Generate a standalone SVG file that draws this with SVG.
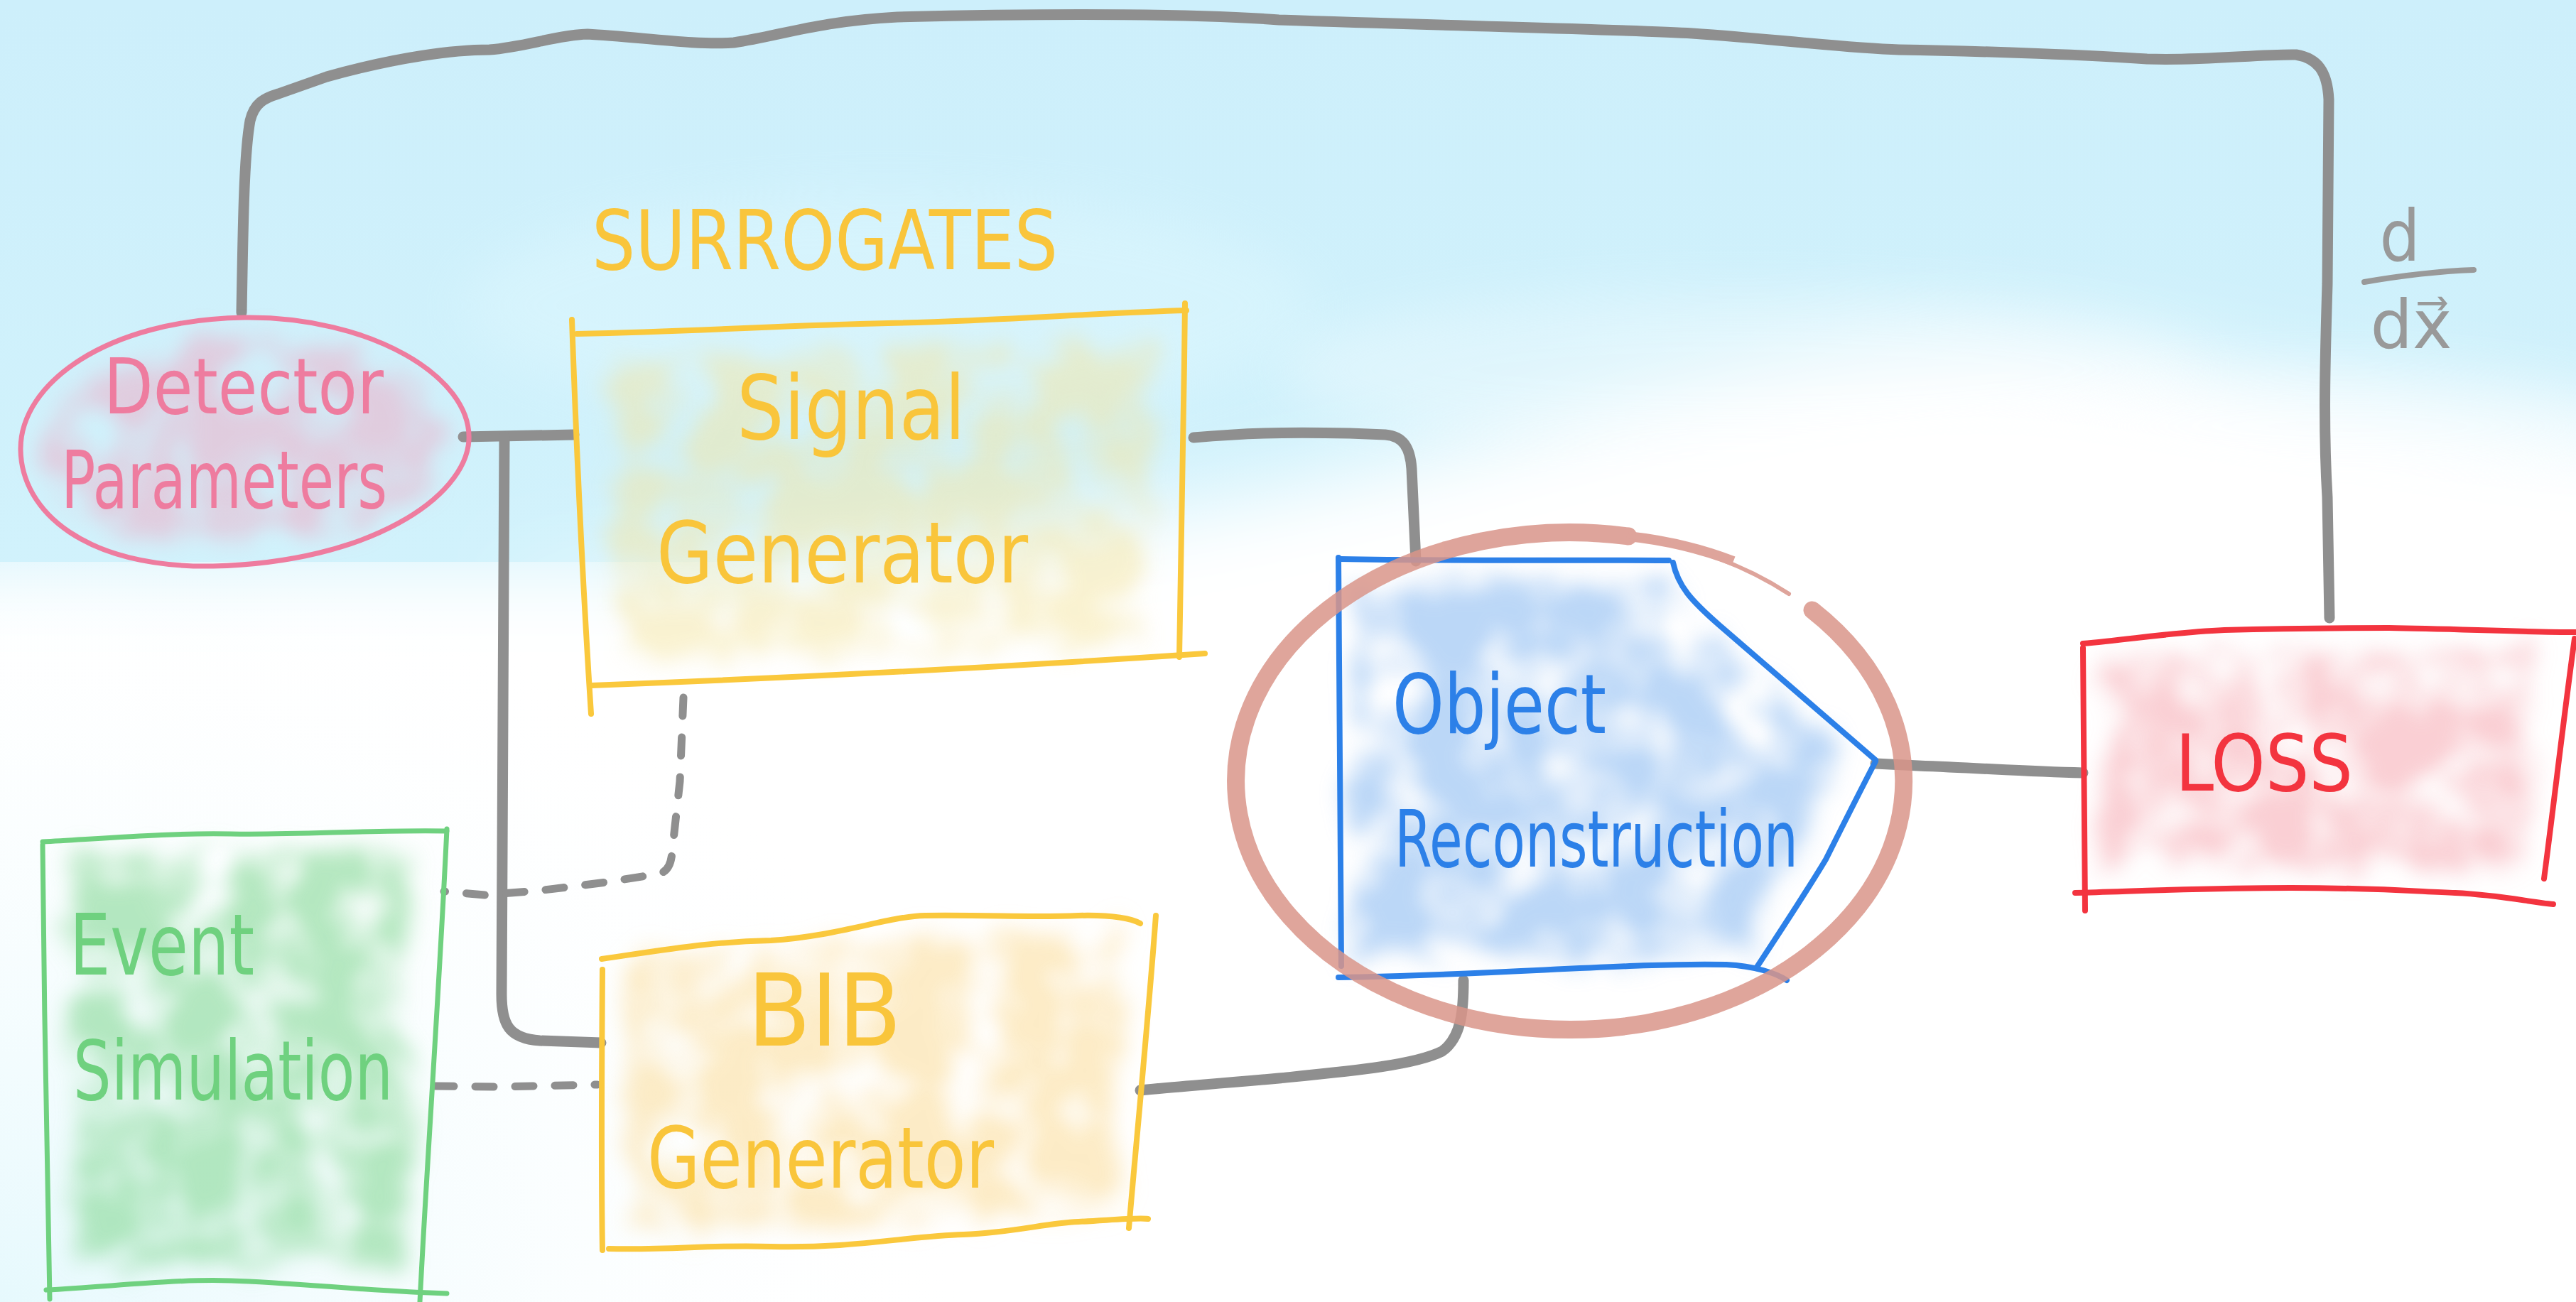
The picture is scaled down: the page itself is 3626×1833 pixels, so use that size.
<svg xmlns="http://www.w3.org/2000/svg" width="3626" height="1833" viewBox="0 0 3626 1833">
<defs>
<style>
.hand{font-family:"DejaVu Sans Condensed","DejaVu Sans","Liberation Sans",sans-serif;font-weight:200}
.conn{fill:none;stroke:#8f8f8f;stroke-width:15;stroke-linecap:round;stroke-linejoin:round}
.dash{fill:none;stroke:#8f8f8f;stroke-width:11;stroke-linecap:round;stroke-dasharray:26 30}
.pink{fill:none;stroke:#ee7c9f;stroke-width:7;stroke-linecap:round}
.yel{fill:none;stroke:#fac83c;stroke-width:8;stroke-linecap:round}
.grn{fill:none;stroke:#6fd17f;stroke-width:7;stroke-linecap:round}
.blu{fill:none;stroke:#2c80e8;stroke-width:8;stroke-linecap:round;stroke-linejoin:round}
.red{fill:none;stroke:#f3343f;stroke-width:8;stroke-linecap:round}
.ring{fill:none;stroke:#d9958a}
</style>
<linearGradient id="sky" x1="0" y1="0" x2="0" y2="1">
<stop offset="0" stop-color="#cdeffb"/>
<stop offset="1" stop-color="#d6f6fd"/>
</linearGradient>
<linearGradient id="leftfade" x1="0" y1="0" x2="1" y2="0">
<stop offset="0" stop-color="#ffffff"/>
<stop offset="0.55" stop-color="#ffffff"/>
<stop offset="1" stop-color="#ffffff" stop-opacity="0"/>
</linearGradient>
<radialGradient id="lowtint" cx="0" cy="1" r="1">
<stop offset="0" stop-color="#e6f9fd"/>
<stop offset="1" stop-color="#ffffff" stop-opacity="0"/>
</radialGradient>
<filter id="soft" x="-20%" y="-20%" width="140%" height="140%">
<feGaussianBlur stdDeviation="60"/>
</filter>
<filter id="soft2" x="-20%" y="-40%" width="140%" height="180%">
<feGaussianBlur stdDeviation="35"/>
</filter>
<mask id="skymask" maskUnits="userSpaceOnUse" x="0" y="0" width="3626" height="1833">
<path d="M-300,-300 H3926 V620 C3400,590 3150,520 2900,490 C2600,460 2300,560 2000,640 C1700,720 1300,785 900,792 L-300,792 Z" fill="#ffffff" filter="url(#soft)"/>
<rect x="0" y="0" width="1150" height="791" fill="url(#leftfade)"/>
</mask>
<filter id="smudge" x="-15%" y="-15%" width="130%" height="130%">
<feTurbulence type="fractalNoise" baseFrequency="0.015" numOctaves="3" seed="5" result="n"/>
<feDisplacementMap in="SourceGraphic" in2="n" scale="70" xChannelSelector="R" yChannelSelector="G" result="d"/>
<feGaussianBlur in="d" stdDeviation="13" result="b"/>
<feTurbulence type="fractalNoise" baseFrequency="0.012" numOctaves="2" seed="9" result="t"/>
<feColorMatrix in="t" type="matrix" values="0 0 0 0 1  0 0 0 0 1  0 0 0 0 1  0 0 0 2.4 -0.45" result="tm"/>
<feComposite in="b" in2="tm" operator="in" result="c"/>
<feGaussianBlur in="c" stdDeviation="9"/>
</filter>
</defs>

<g id="background">
<rect x="0" y="0" width="3626" height="1833" fill="#ffffff"/>
<rect x="0" y="700" width="1400" height="1133" fill="url(#lowtint)"/>
<rect x="0" y="0" width="3626" height="1833" fill="url(#sky)" mask="url(#skymask)"/>
<ellipse cx="2450" cy="520" rx="650" ry="110" fill="#ffffff" opacity="0.3" filter="url(#soft2)"/>
<ellipse cx="3300" cy="600" rx="400" ry="80" fill="#ffffff" opacity="0.3" filter="url(#soft2)"/>
<ellipse cx="1250" cy="430" rx="600" ry="160" fill="#e4faff" opacity="0.35" filter="url(#soft2)"/>
</g>

<g id="connectors">
<path class="conn" d="M340,440 C342,330 343,220 352,170 C358,145 372,138 392,132 L460,108 C560,80 640,70 689,70 C740,66 780,50 827,48 C900,52 980,64 1033,60 C1100,50 1150,30 1263,24 C1500,18 1700,20 1800,28 C2100,38 2300,42 2382,47 C2500,55 2600,68 2673,70 C2800,72 2950,78 3022,83 C3100,86 3180,76 3232,77 C3262,82 3276,100 3278,140 L3276,400 C3273,500 3270,600 3276,700 L3279,870"/>
<path class="conn" d="M652,615 L808,612"/>
<path class="conn" d="M710,615 L708,1000 L706,1400 C706,1442 716,1462 760,1465 L846,1468"/>
<path class="conn" d="M1680,616 C1750,610 1800,608 1900,610 L1950,612 C1975,614 1985,630 1987,660 L1993,790"/>
<path class="conn" d="M1605,1535 C1650,1530 1700,1527 1800,1518 C1900,1508 1990,1500 2030,1480 C2058,1460 2060,1420 2060,1380"/>
<path class="conn" d="M2640,1075 L2700,1078 C2800,1082 2850,1086 2932,1088"/>
<path class="dash" d="M962,982 L957,1100 L946,1200 C944,1222 938,1232 910,1233 L853,1242 C820,1246 780,1252 743,1255 L683,1260 L625,1255"/>
<path class="dash" d="M613,1529 L700,1530 L841,1527"/>
<text class="hand" x="3378" y="367" font-size="100" fill="#999999" text-anchor="middle">d</text>
<path d="M3328,397 C3380,388 3430,382 3482,380" fill="none" stroke="#999999" stroke-width="8" stroke-linecap="round"/>
<text class="hand" x="3394" y="490" font-size="95" fill="#999999" text-anchor="middle" textLength="115" lengthAdjust="spacingAndGlyphs">dx⃗</text>
</g>

<g id="detector-parameters">
<path d="M344,475 C520,475 625,545 620,620 C615,700 500,765 300,770 C135,772 65,705 65,633 C65,550 170,477 344,475 Z" fill="#f0a9c2" opacity="0.5" filter="url(#smudge)"/>
<path class="pink" d="M344,447 C520,445 665,530 660,620 C655,700 520,792 300,797 C120,800 30,720 29,633 C28,540 150,450 344,447 Z"/>
<text class="hand" x="146" y="582" font-size="108" fill="#ee7c9f" textLength="394" lengthAdjust="spacingAndGlyphs">Detector</text>
<text class="hand" x="86" y="715" font-size="112" fill="#ee7c9f" textLength="459" lengthAdjust="spacingAndGlyphs">Parameters</text>
</g>

<g id="surrogates-label">
<text class="hand" x="833" y="379" font-size="115" fill="#f9c53b" textLength="656" lengthAdjust="spacingAndGlyphs">SURROGATES</text>
</g>

<g id="signal-generator">
<path d="M860,500 L1620,480 L1610,910 L870,930 Z" fill="#f4e39a" opacity="0.45" filter="url(#smudge)"/>
<path class="yel" d="M805,450 C812,650 822,850 832,1005"/>
<path class="yel" d="M812,470 C1000,466 1100,458 1250,455 C1400,452 1550,440 1670,437"/>
<path class="yel" d="M1668,427 C1666,600 1663,780 1660,925"/>
<path class="yel" d="M833,965 C1100,955 1400,940 1696,920"/>
<text class="hand" x="1037" y="618" font-size="125" fill="#f9c53b" textLength="322" lengthAdjust="spacingAndGlyphs">Signal</text>
<text class="hand" x="924" y="820" font-size="120" fill="#f9c53b" textLength="523" lengthAdjust="spacingAndGlyphs">Generator</text>
</g>

<g id="bib-generator">
<path d="M885,1345 L1585,1305 L1570,1710 L890,1735 Z" fill="#fbdc98" opacity="0.55" filter="url(#smudge)"/>
<path class="yel" d="M847,1350 C950,1335 1000,1326 1085,1324 C1180,1318 1250,1290 1302,1289 C1400,1288 1450,1292 1518,1289 C1560,1288 1590,1292 1605,1300"/>
<path class="yel" d="M848,1365 C847,1500 846,1650 848,1760"/>
<path class="yel" d="M1627,1289 C1615,1450 1600,1600 1589,1729"/>
<path class="yel" d="M857,1758 C950,1760 1000,1752 1085,1755 C1200,1758 1280,1740 1356,1738 C1430,1735 1470,1722 1518,1720 C1560,1718 1600,1714 1616,1716"/>
<text class="hand" x="1052" y="1472" font-size="140" fill="#f9c53b" textLength="217" lengthAdjust="spacingAndGlyphs">BIB</text>
<text class="hand" x="911" y="1672" font-size="120" fill="#f9c53b" textLength="488" lengthAdjust="spacingAndGlyphs">Generator</text>
</g>

<g id="event-simulation">
<path d="M100,1200 L575,1195 L570,1780 L110,1785 Z" fill="#8fdc9f" opacity="0.65" filter="url(#smudge)"/>
<path class="grn" d="M60,1185 C150,1180 250,1172 325,1174 C420,1176 520,1168 629,1170"/>
<path class="grn" d="M60,1189 C62,1400 66,1650 70,1829"/>
<path class="grn" d="M629,1167 C618,1400 600,1650 591,1833"/>
<path class="grn" d="M65,1816 C150,1812 250,1800 325,1803 C420,1806 520,1818 629,1821"/>
<text class="hand" x="98" y="1372" font-size="120" fill="#6fd17f" textLength="260" lengthAdjust="spacingAndGlyphs">Event</text>
<text class="hand" x="103" y="1548" font-size="115" fill="#6fd17f" textLength="450" lengthAdjust="spacingAndGlyphs">Simulation</text>
</g>

<g id="object-reconstruction">
<path d="M1905,820 L2340,815 L2590,1070 L2470,1340 L1910,1355 Z" fill="#98c2f3" opacity="0.65" filter="url(#smudge)"/>
<path class="blu" d="M1886,787 C2050,790 2200,788 2349,789"/>
<path class="blu" d="M1884,785 C1886,1000 1887,1200 1888,1360"/>
<path class="blu" d="M2355,792 C2362,825 2380,845 2420,880 L2640,1070"/>
<path class="blu" d="M2640,1072 C2615,1120 2590,1170 2570,1210 C2540,1260 2500,1320 2472,1363"/>
<path class="blu" d="M1884,1376 C2100,1373 2300,1355 2430,1358 C2470,1360 2500,1370 2515,1380"/>
<g opacity="0.85">
<path class="ring" d="M2551,859 A470 350 0 1 1 2292,755" stroke-width="25" stroke-linecap="round"/>
<path class="ring" d="M2292,755 A470 350 0 0 1 2440,790" stroke-width="14"/>
<path class="ring" d="M2292,755 A470 350 0 0 1 2518,836" stroke-width="6" stroke-linecap="round"/>
</g>
<text class="hand" x="1960" y="1032" font-size="115" fill="#2c80e8" textLength="301" lengthAdjust="spacingAndGlyphs">Object</text>
<text class="hand" x="1963" y="1220" font-size="110" fill="#2c80e8" textLength="568" lengthAdjust="spacingAndGlyphs">Reconstruction</text>
</g>

<g id="loss">
<path d="M2960,925 L3560,915 L3560,1220 L2965,1225 Z" fill="#f7b0b8" opacity="0.6" filter="url(#smudge)"/>
<path class="red" d="M2932,906 C3000,900 3060,890 3131,887 C3200,885 3300,884 3363,884 C3450,885 3550,890 3626,890"/>
<path class="red" d="M2932,912 C2933,1050 2934,1180 2935,1282"/>
<path class="red" d="M3624,899 C3610,1000 3595,1130 3581,1237"/>
<path class="red" d="M2921,1257 C3000,1255 3100,1250 3224,1250 C3350,1250 3400,1255 3456,1257 C3520,1260 3560,1270 3594,1273"/>
<text class="hand" x="3062" y="1113" font-size="110" fill="#f3343f" textLength="250" lengthAdjust="spacingAndGlyphs">LOSS</text>
</g>
</svg>
